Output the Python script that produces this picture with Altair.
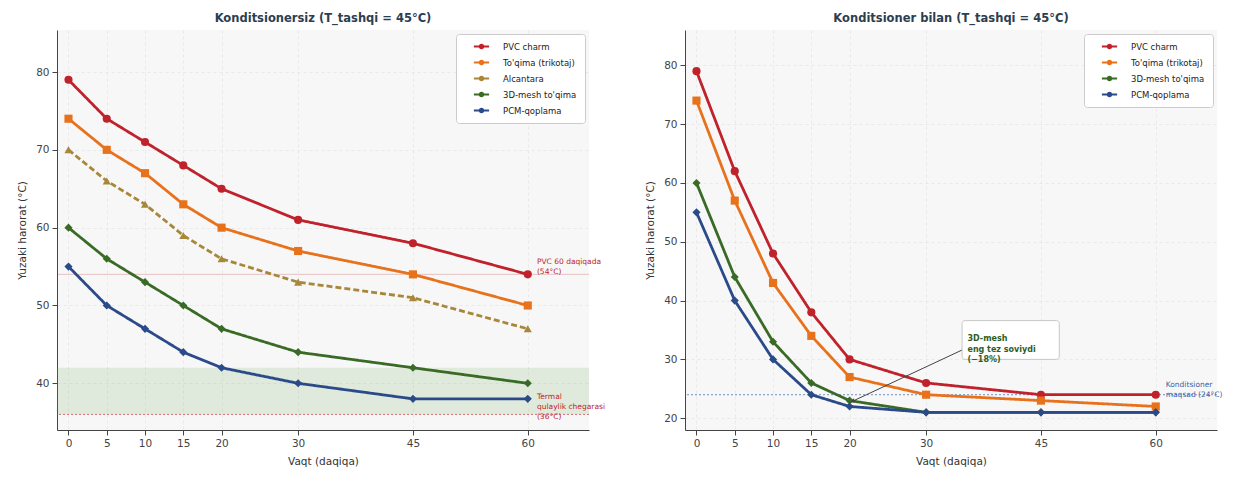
import altair as alt
import pandas as pd

FONT = "DejaVu Sans"

times = [0, 5, 10, 15, 20, 30, 45, 60]

left_materials = ["PVC charm", "To'qima (trikotaj)", "Alcantara", "3D-mesh to'qima", "PCM-qoplama"]
left_pvc = [79, 74, 71, 68, 65, 61, 58, 54]
left_toqima = [74, 70, 67, 63, 60, 57, 54, 50]
left_alcantara = [70, 66, 63, 59, 56, 53, 51, 47]
left_mesh = [60, 56, 53, 50, 47, 44, 42, 40]
left_pcm = [55, 50, 47, 44, 42, 40, 38, 38]

right_materials = ["PVC charm", "To'qima (trikotaj)", "3D-mesh to'qima", "PCM-qoplama"]
right_pvc = [79, 62, 48, 38, 30, 26, 24, 24]
right_toqima = [74, 57, 43, 34, 27, 24, 23, 22]
right_mesh = [60, 44, 33, 26, 23, 21, 21, 21]
right_pcm = [55, 40, 30, 24, 22, 21, 21, 21]

colors = {
    "PVC charm": "#c0222c",
    "To'qima (trikotaj)": "#e8721c",
    "Alcantara": "#a8873a",
    "3D-mesh to'qima": "#3a6b26",
    "PCM-qoplama": "#2a4a8a",
}
shapes = {
    "PVC charm": "circle",
    "To'qima (trikotaj)": "square",
    "Alcantara": "triangle-up",
    "3D-mesh to'qima": "diamond",
    "PCM-qoplama": "diamond",
}
dashes = {
    "PVC charm": [1, 0],
    "To'qima (trikotaj)": [1, 0],
    "Alcantara": [6, 3],
    "3D-mesh to'qima": [1, 0],
    "PCM-qoplama": [1, 0],
}

x_domain = [-1.5, 68]
left_y_domain = [34, 85.4]
left_y_ticks = [40, 50, 60, 70, 80]
right_y_domain = [18, 86]
right_y_ticks = [20, 30, 40, 50, 60, 70, 80]

# annotations (left)
band_low, band_high = 36, 42
pvc_ref = 54
left_notes = [
    {"x": 61.2, "y": 55.6, "text": "PVC 60 daqiqada\n(54°C)"},
    {"x": 61.2, "y": 38.3, "text": "Termal\nqulaylik chegarasi\n(36°C)"},
]
# annotations (right)
target = 24
right_note = {"x": 61.3, "y": 25.6, "text": "Konditsioner\nmaqsad (24°C)"}
mesh_note = {"x": 35.4, "y": 33.4, "text": "3D-mesh\neng tez soviydi\n(−18%)"}
mesh_box = {"x": 34.7, "x2": 47.4, "y": 30.0, "y2": 36.6}
arrow = {"x": 20.4, "y": 22.9, "x2": 34.7, "y2": 31.6}
arrow_head_angle = 245

W, H = 532, 400

legend_path = ("M-1.9,-0.26L1.9,-0.26L1.9,0.26L-1.9,0.26Z "
               "M0.7,0A0.7,0.7,0,1,1,-0.7,0A0.7,0.7,0,1,1,0.7,0Z")


def long_df(materials, series):
    rows = []
    for m, vals in zip(materials, series):
        for t, v in zip(times, vals):
            rows.append({"t": t, "v": v, "m": m, "ms": "s:" + m, "md": "d:" + m, "mp": "p:" + m})
    return pd.DataFrame(rows)


def series_layers(df, materials, y_domain, y_ticks):
    x = alt.X("t:Q", scale=alt.Scale(domain=x_domain, nice=False, zero=False),
              axis=alt.Axis(values=times, title="Vaqt (daqiqa)", format="d"))
    y = alt.Y("v:Q", scale=alt.Scale(domain=y_domain, nice=False, zero=False),
              axis=alt.Axis(values=y_ticks, title="Yuzaki harorat (°C)"))
    rng = [colors[m] for m in materials]
    lines = alt.Chart(df).mark_line(strokeWidth=2.8).encode(
        x=x, y=y,
        stroke=alt.Stroke("ms:N", scale=alt.Scale(domain=["s:" + m for m in materials], range=rng), legend=None),
        strokeDash=alt.StrokeDash("md:N", scale=alt.Scale(domain=["d:" + m for m in materials],
                                                          range=[dashes[m] for m in materials]), legend=None),
        detail="m:N",
    )
    pts = alt.Chart(df).mark_point(filled=True, size=66, opacity=1).encode(
        x=x, y=y,
        color=alt.Color("m:N", scale=alt.Scale(domain=materials, range=rng),
                        legend=alt.Legend(title=None, orient="top-right", offset=4,
                                          fillColor="white", strokeColor="#cccccc",
                                          padding=8, cornerRadius=3,
                                          labelFont=FONT, labelFontSize=8.5, labelColor="#222",
                                          symbolType=legend_path, symbolSize=64, symbolStrokeWidth=1,
                                          symbolOffset=13, labelOffset=17, rowPadding=7)),
        shape=alt.Shape("mp:N", scale=alt.Scale(domain=["p:" + m for m in materials],
                                                range=[shapes[m] for m in materials]), legend=None),
    )
    return lines, pts


# ---------- left panel ----------
ldf = long_df(left_materials, [left_pvc, left_toqima, left_alcantara, left_mesh, left_pcm])
llines, lpts = series_layers(ldf, left_materials, left_y_domain, left_y_ticks)

band = alt.Chart(pd.DataFrame([{"x": x_domain[0], "x2": x_domain[1], "y": band_low, "y2": band_high}])).mark_rect(
    color="#6aa84f", opacity=0.16).encode(x="x:Q", x2="x2:Q", y="y:Q", y2="y2:Q")
band_rule = alt.Chart(pd.DataFrame({"y": [band_low]})).mark_rule(
    color="#c0222c", strokeDash=[2, 2], strokeWidth=1, opacity=0.6).encode(y="y:Q")
pvc_rule = alt.Chart(pd.DataFrame({"y": [pvc_ref]})).mark_rule(
    color="#c0222c", strokeWidth=1, opacity=0.25).encode(y="y:Q")
lnotes = alt.Chart(pd.DataFrame(left_notes)).mark_text(
    align="left", baseline="middle", fontSize=7.5, font=FONT, color="#c0222c", lineBreak="\n", lineHeight=10
).encode(x="x:Q", y="y:Q", text="text:N")

left = alt.layer(band, band_rule, pvc_rule, llines, lpts, lnotes).properties(
    width=W, height=H,
    title=alt.TitleParams("Konditsionersiz (T_tashqi = 45°C)", fontSize=11.5, fontWeight="bold",
                          color="#2c3e50", font=FONT, offset=6),
)

# ---------- right panel ----------
rdf = long_df(right_materials, [right_pvc, right_toqima, right_mesh, right_pcm])
rlines, rpts = series_layers(rdf, right_materials, right_y_domain, right_y_ticks)

target_rule = alt.Chart(pd.DataFrame({"y": [target]})).mark_rule(
    color="#3a64a8", strokeDash=[2, 2], strokeWidth=1, opacity=0.7).encode(y="y:Q")
rnote = alt.Chart(pd.DataFrame([right_note])).mark_text(
    align="left", baseline="middle", fontSize=7.5, font=FONT, color="#3a64a8", lineBreak="\n", lineHeight=10
).encode(x="x:Q", y="y:Q", text="text:N")
box = alt.Chart(pd.DataFrame([mesh_box])).mark_rect(
    fill="white", stroke="#bbbbbb", strokeWidth=0.8, cornerRadius=3).encode(
    x="x:Q", x2="x2:Q", y="y:Q", y2="y2:Q")
mnote = alt.Chart(pd.DataFrame([mesh_note])).mark_text(
    align="left", baseline="middle", fontSize=8, font=FONT, fontWeight="bold", color="#2e5e1e",
    lineBreak="\n", lineHeight=10.5
).encode(x="x:Q", y="y:Q", text="text:N")
arrow_line = alt.Chart(pd.DataFrame([arrow])).mark_rule(color="#444444", strokeWidth=1).encode(
    x="x:Q", y="y:Q", x2="x2:Q", y2="y2:Q")
arrow_head = alt.Chart(pd.DataFrame([arrow])).mark_point(
    shape="triangle-up", filled=True, size=22, color="#444444", opacity=1, angle=arrow_head_angle
).encode(x="x:Q", y="y:Q")

right = alt.layer(target_rule, rlines, rpts, rnote, arrow_line, arrow_head, box, mnote).properties(
    width=W, height=H,
    title=alt.TitleParams("Konditsioner bilan (T_tashqi = 45°C)", fontSize=11.5, fontWeight="bold",
                          color="#2c3e50", font=FONT, offset=6),
)

chart = alt.hconcat(left, right, spacing=40).resolve_scale(
    color="independent", stroke="independent", shape="independent", strokeDash="independent",
    x="independent", y="independent"
).resolve_legend(color="independent").properties(
    padding={"left": 9, "top": 4, "right": 5, "bottom": 4}, background="white"
).configure_axis(
    labelFont=FONT, labelFontSize=10.5, labelColor="#444444",
    titleFont=FONT, titleFontSize=10.5, titleFontWeight=400, titleColor="#333333",
    tickColor="#444444", domainColor="#444444", tickSize=5, labelPadding=3, titlePadding=8,
    gridColor="#e4e4e4", gridDash=[3, 3], gridWidth=0.8,
).configure_view(
    fill="#f7f7f7", stroke=None
)

chart.save("out.html", embed_options={"renderer": "svg", "actions": False})
